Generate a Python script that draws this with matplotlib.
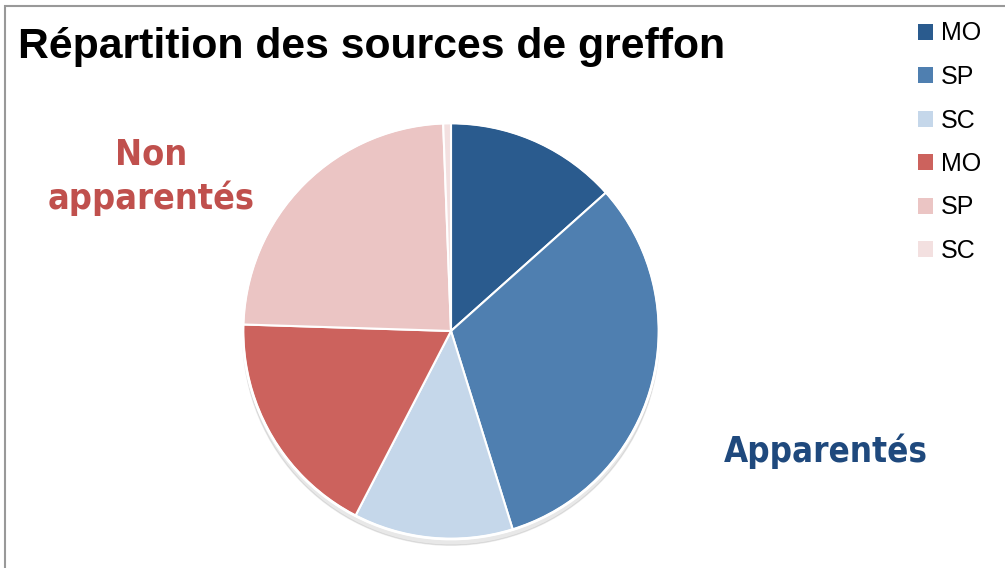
import matplotlib
matplotlib.use("Agg")
import matplotlib.pyplot as plt
from matplotlib.patches import Rectangle, Circle, Patch

labels = ["MO", "SP", "SC", "MO", "SP", "SC"]
values = [13.4, 31.8, 12.4, 17.9, 23.9, 0.6]
colors = ["#2A5B8E", "#4F7FB0", "#C5D7EA", "#CC625D", "#EBC5C4", "#F3E0E0"]
title = "Répartition des sources de greffon"
group_labels = ["Non\napparentés", "Apparentés"]
group_colors = ["#C0504D", "#1F497D"]

W, H = 1005, 568
fig = plt.figure(figsize=(W / 100, H / 100), dpi=100)

# outer frame (only left and top edges visible)
fig.patches.append(Rectangle((5 / W, -0.1), 1.2, 1 - 6 / H + 0.1, transform=fig.transFigure,
                             fill=False, edgecolor="#999999", linewidth=1.5))

fig.text(18 / W, 1 - 58 / H, title, fontsize=30.8, fontweight="bold",
         family="Liberation Sans", va="baseline", ha="left")

r = 208
ax = fig.add_axes([(451 - r * 1.05) / W, (568 - 331 - r * 1.05) / H,
                   2 * r * 1.05 / W, 2 * r * 1.05 / H])
# soft shadow under the pie
ax.add_patch(Circle((0.0, -0.03), 1.0, color="#000000", alpha=0.09, zorder=0))
ax.pie(values, colors=colors, startangle=90, counterclock=False, radius=1.0,
       wedgeprops=dict(edgecolor="white", linewidth=1.5))
ax.add_patch(Circle((0, 0), 1.0, fill=False, edgecolor="white", linewidth=2, zorder=5))
ax.set_xlim(-1.05, 1.05)
ax.set_ylim(-1.05, 1.05)
ax.set_aspect("equal")
ax.axis("off")

fig.text(151 / W, 1 - 177 / H, group_labels[0], fontsize=25.8, fontweight="bold",
         family="DejaVu Sans", fontstretch="condensed", color=group_colors[0],
         ha="center", va="center", linespacing=1.3)
fig.text(826 / W, 1 - 451 / H, group_labels[1], fontsize=25, fontweight="bold",
         family="DejaVu Sans", fontstretch="condensed", color=group_colors[1],
         ha="center", va="center")

handles = [Patch(facecolor=c, edgecolor="none") for c in colors]
fig.legend(handles, labels, loc="upper left", bbox_to_anchor=(895 / W, 1 + 1 / H),
           frameon=False, prop={"family": "Liberation Sans", "size": 18},
           handlelength=0.6, handleheight=0.6, handletextpad=0.35, labelspacing=0.78)

fig.savefig("out.png", dpi=100, facecolor="white")
